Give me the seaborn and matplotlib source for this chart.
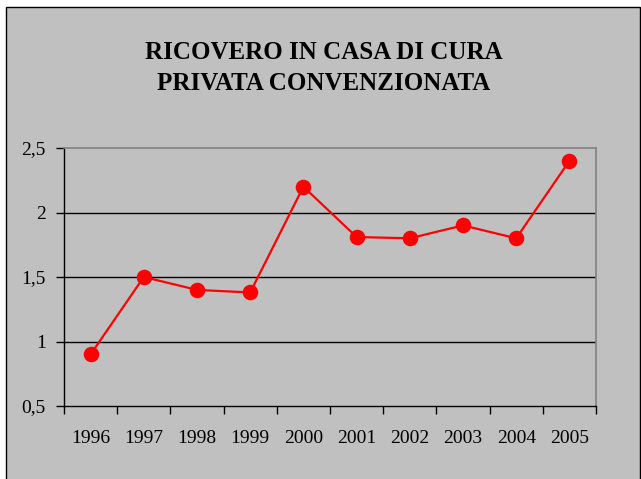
import matplotlib
matplotlib.use("Agg")
import matplotlib.pyplot as plt
import matplotlib.patches as patches
from matplotlib.ticker import FixedLocator, FuncFormatter
import pandas as pd
import seaborn as sns

# === DATA ===
anni = ["1996", "1997", "1998", "1999", "2000", "2001", "2002", "2003", "2004", "2005"]
valori = [0.90, 1.50, 1.40, 1.38, 2.20, 1.81, 1.80, 1.90, 1.80, 2.40]
y_ticks = [0.5, 1.0, 1.5, 2.0, 2.5]
titolo = "RICOVERO IN CASA DI CURA\nPRIVATA CONVENZIONATA"

df = pd.DataFrame({"anno": anni, "valore": valori})

# === STYLE ===
sns.set_style("white")
plt.rcParams["font.family"] = ["Liberation Serif", "DejaVu Serif"]
plt.rcParams["text.color"] = "black"
plt.rcParams["xtick.color"] = "black"
plt.rcParams["ytick.color"] = "black"
GRAY = "#C0C0C0"

fig = plt.figure(figsize=(6.41, 4.79), dpi=100, facecolor="white")

# gray chart area with thin black frame
W, H = 641, 479
frame = patches.Rectangle((5.5 / W, -0.01), 634 / W, (H - 6.5) / H + 0.01,
                          transform=fig.transFigure, facecolor=GRAY,
                          edgecolor="black", linewidth=1.0, zorder=-10)
fig.patches.append(frame)

ax = fig.add_axes([64 / W, 1 - 406 / H, 532 / W, 258 / H])
ax.set_facecolor(GRAY)

sns.pointplot(data=df, x="anno", y="valore", color="#FF0000", markers="o",
              markersize=10, linewidth=1.6, ax=ax, zorder=3)

# === AXES ===
ax.set_xlim(-0.5, len(anni) - 0.5)
ax.set_ylim(0.5, 2.5)
ax.set_xlabel("")
ax.set_ylabel("")

ax.yaxis.set_major_locator(FixedLocator(y_ticks))
ax.yaxis.set_major_formatter(FuncFormatter(lambda v, p: f"{v:g}".replace(".", ",")))
for v in y_ticks[1:-1]:
    ax.axhline(v, color="black", linewidth=1.0, zorder=1)

# category labels centred, tick marks between categories
ax.set_xticks(range(len(anni)))
ax.set_xticklabels(anni)
ax.set_xticks([i - 0.5 for i in range(len(anni) + 1)], minor=True)
ax.tick_params(axis="x", which="major", length=0, pad=17, labelsize=14, colors="black")
ax.tick_params(axis="x", which="minor", length=6, width=1, direction="out", color="black", bottom=True)
ax.tick_params(axis="y", which="major", length=6, width=1, direction="out", pad=7,
               labelsize=14, color="black", left=True)

for s in ["left", "bottom"]:
    ax.spines[s].set_color("black")
    ax.spines[s].set_linewidth(1.0)
for s in ["top", "right"]:
    ax.spines[s].set_color("#808080")
    ax.spines[s].set_linewidth(1.2)

fig.text(324 / W, 1 - 68 / H, titolo, ha="center", va="center", fontsize=18,
         fontweight="bold", linespacing=1.4, color="black")

plt.savefig("out.png", dpi=100, facecolor="white")
